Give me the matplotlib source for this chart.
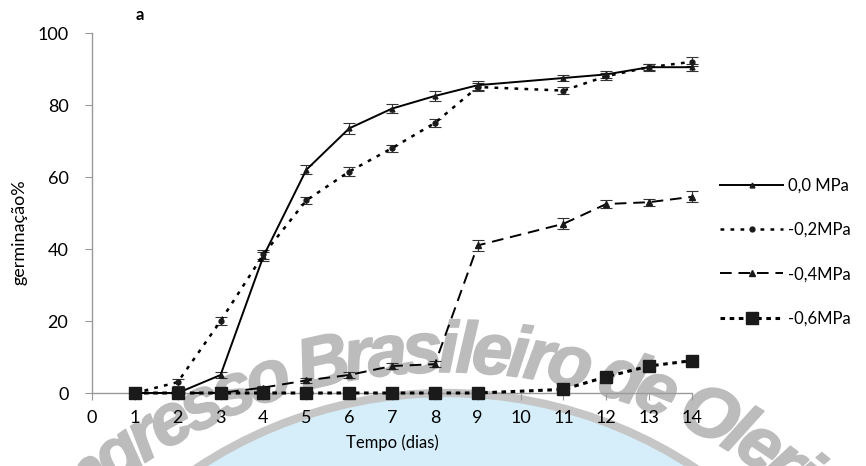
import matplotlib
matplotlib.use("Agg")
import matplotlib.pyplot as plt
from matplotlib.patches import Circle
from matplotlib.font_manager import FontProperties
import matplotlib.patheffects as pe
import numpy as np

days = [1, 2, 3, 4, 5, 6, 7, 8, 9, 11, 12, 13, 14]
s00 = [0, 0, 5, 38, 62, 73.5, 79, 82.5, 85.5, 87.5, 88.5, 90.5, 90.5]
s02 = [0, 3, 20, 38.5, 53.5, 61.5, 68, 75, 85, 84, 88, 90.5, 92]
s04 = [0, 0, 0, 1.5, 3.5, 5, 7.5, 8, 41, 47, 52.5, 53, 54.5]
s06 = [0, 0, 0, 0, 0, 0, 0, 0, 0, 1, 4.5, 7.5, 9]
err00 = [0.5, 0.5, 0.8, 1.2, 1.3, 1.5, 1.3, 1.5, 1.2, 0.8, 1.0, 0.8, 1.0]
err02 = [0.5, 1.0, 1.0, 1.2, 1.0, 1.2, 1.0, 1.2, 1.2, 1.0, 1.0, 1.0, 1.2]
err04 = [0.3, 0.3, 0.3, 0.5, 0.8, 0.8, 0.8, 0.8, 1.5, 1.5, 1.0, 1.0, 1.5]
err06 = [0.3, 0.3, 0.3, 0.3, 0.3, 0.3, 0.3, 0.3, 0.3, 0.5, 0.5, 0.5, 0.8]
labels = ["0,0 MPa", "-0,2MPa", "-0,4MPa", "-0,6MPa"]
xticks = list(range(0, 15))
yticks = [0, 20, 40, 60, 80, 100]
watermark = "Congresso Brasileiro de Olericultura"

plt.rcParams['font.family'] = ['Lato', 'DejaVu Sans']

fig = plt.figure(figsize=(8.66, 4.66), dpi=100)

# watermark background (pixel coordinates, y up)
bg = fig.add_axes([0, 0, 1, 1], zorder=0)
bg.set_xlim(0, 866)
bg.set_ylim(0, 466)
bg.axis('off')
cx, cy = 446, 466 - 844
bg.add_patch(Circle((cx, cy), 451, facecolor='#d5eefa', edgecolor='#c6c6c6', lw=6))

fp = FontProperties(family=['Liberation Sans', 'DejaVu Sans'], weight='bold',
                    style='italic', size=52)
renderer = fig.canvas.get_renderer()
widths = []
for ch in watermark:
    if ch == ' ':
        widths.append(None)
    else:
        widths.append(renderer.get_text_width_height_descent(ch, fp, ismath=False)[0])
iB = watermark.index('B')
wB = sum(widths[iB:iB + 10])
k = 280.0 / wB
space = 15.0
r = 545.0
tcx, tcy = 446, (466 - 372) - r
s0 = -141.0
pos = [0.0] * len(watermark)
s = s0
for i in range(iB - 1, -1, -1):
    w = space if widths[i] is None else widths[i] * k
    s -= w
    pos[i] = s + w / 2
s = s0
for i in range(iB, len(watermark)):
    w = space if widths[i] is None else widths[i] * k
    pos[i] = s + w / 2
    s += w
for ch, sc in zip(watermark, pos):
    if ch == ' ':
        continue
    a = sc / r
    x = tcx + r * np.sin(a)
    y = tcy + r * np.cos(a)
    if x < -10 or x > 876 or y < -35:
        continue
    bg.text(x, y, ch, fontproperties=fp, color='#bcbcbc', ha='center', va='baseline',
            rotation=-np.degrees(a), rotation_mode='anchor',
            path_effects=[pe.withStroke(linewidth=1.2, foreground='#bcbcbc')])

ax = fig.add_axes([92/866, 1-393/466, 600/866, 360/466], zorder=1)
ax.patch.set_alpha(0)

styles = [
    dict(ls='-', lw=1.4, marker='^', ms=3.5),
    dict(ls=(0, (1.5, 2.5)), lw=1.8, marker='o', ms=3.5),
    dict(ls=(0, (6, 3.5)), lw=1.4, marker='^', ms=5),
    dict(ls=(0, (1.5, 1.5)), lw=2.2, marker='s', ms=8),
]
series = [s00, s02, s04, s06]
errs = [err00, err02, err04, err06]
for y, e, st, lab in zip(series, errs, styles, labels):
    ax.errorbar(days, y, yerr=e, fmt='none', ecolor='#333333', elinewidth=0.8,
                capsize=4, capthick=0.8, clip_on=False, zorder=3)
    ax.plot(days, y, color='black', label=lab, clip_on=False, zorder=4,
            markerfacecolor='#1a1a1a', markeredgecolor='#1a1a1a', **st)

ax.set_xlim(0, 14)
ax.set_ylim(0, 100)
ax.set_xticks(xticks)
ax.set_yticks(yticks)
for sp in ['top', 'right']:
    ax.spines[sp].set_visible(False)
for sp in ['left', 'bottom']:
    ax.spines[sp].set_color('#9a9a9a')
    ax.spines[sp].set_linewidth(1)
ax.tick_params(axis='both', colors='#9a9a9a', length=5, labelsize=13, labelcolor='black')
ax.tick_params(axis='x', pad=7)
ax.tick_params(axis='y', pad=12)
ax.set_xlabel("Tempo (dias)", fontsize=12, labelpad=6)
ax.set_ylabel("germinação%", fontsize=13)
ax.yaxis.set_label_coords((28 - 92) / 600, (393 - 232) / 360)
fig.text(140/866, 1-15/466, "a", fontsize=12, fontweight='bold', ha='center', va='center')

ax.legend(loc='center left', bbox_to_anchor=(720/866, 1-252/466), bbox_transform=fig.transFigure,
          frameon=False, fontsize=12, labelspacing=1.7, handlelength=3.8, handletextpad=0.3,
          borderpad=0, borderaxespad=0)

fig.savefig("out.png", dpi=100)
